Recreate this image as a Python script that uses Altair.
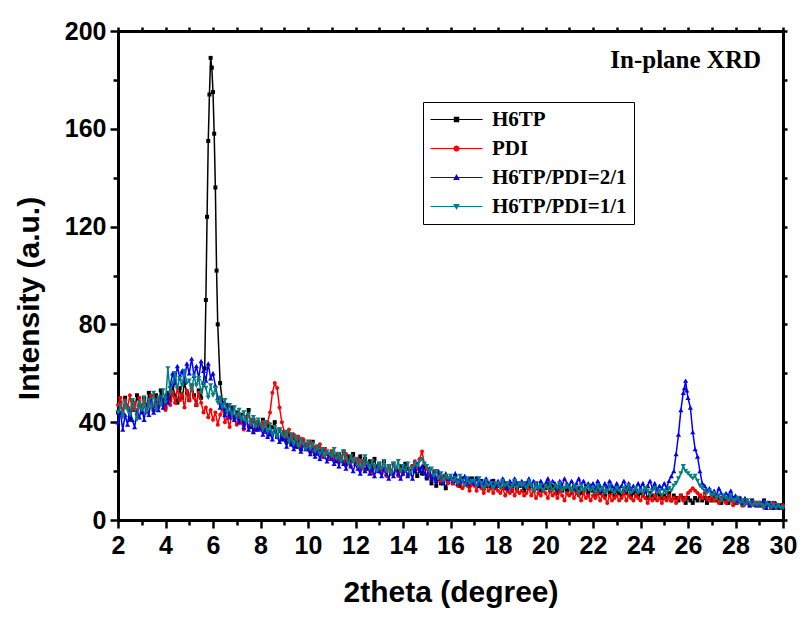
import altair as alt
import pandas as pd

# ---------------- data ----------------
series_names = ["H6TP", "PDI", "H6TP/PDI=2/1", "H6TP/PDI=1/1"]
series_colors = ["#000000", "#ff0000", "#0000ff", "#008080"]
series_shapes = ["square", "circle", "triangle-up", "triangle-down"]
series_sizes = [16, 16, 26, 26]

# scan grid 2.0 .. 30.0 deg, step 0.1 (one row = one degree)
two_theta = [round(2.0 + 0.1 * i, 1) for i in range(281)]

h6tp = [
    44, 48, 43, 50, 46, 41, 49, 45, 51, 47,
    44, 50, 46, 52, 48, 45, 51, 47, 53, 49,
    46, 52, 49, 55, 51, 48, 54, 50, 56, 52,
    49, 55, 51, 47, 53, 50, 56, 90, 155, 189,
    175, 136, 80, 56, 48, 44, 47, 43, 46, 42,
    44, 40, 43, 39, 42, 45, 38, 41, 37, 40,
    38, 41, 36, 39, 35, 38, 40, 34, 37, 33,
    36, 32, 35, 31, 34, 30, 33, 29, 32, 30,
    31, 28, 32, 27, 30, 28, 26, 29, 27, 25,
    28, 26, 24, 27, 25, 28, 23, 26, 24, 27,
    24, 22, 26, 23, 25, 21, 24, 22, 25, 20,
    23, 21, 24, 20, 22, 19, 23, 21, 20, 22,
    20, 23, 21, 19, 22, 20, 18, 21, 19, 22,
    17, 19, 15, 18, 14, 17, 15, 16, 13, 16,
    17, 15, 18, 16, 14, 17, 15, 16, 14, 17,
    15, 17, 14, 16, 13, 16, 15, 14, 16, 13,
    15, 14, 16, 13, 15, 14, 12, 15, 13, 14,
    14, 12, 15, 13, 14, 12, 15, 13, 12, 14,
    13, 15, 12, 14, 13, 11, 14, 12, 13, 12,
    13, 11, 14, 12, 13, 11, 12, 14, 11, 13,
    12, 10, 13, 11, 12, 10, 13, 11, 12, 10,
    12, 11, 10, 12, 11, 13, 10, 11, 12, 10,
    11, 10, 12, 9, 11, 10, 9, 11, 10, 9,
    10, 9, 11, 8, 10, 9, 8, 10, 9, 7,
    9, 8, 7, 9, 8, 10, 8, 9, 7, 9,
    8, 10, 8, 9, 7, 9, 8, 7, 9, 8,
    7, 9, 8, 6, 8, 7, 6, 8, 7, 6,
    7, 6, 8, 6, 7, 5, 7, 6, 5, 6,
    6,
]
h6tp_peak_x = [5.65, 5.75, 5.85, 5.95, 6.05, 6.15]
h6tp_peak_y = [62, 124, 174, 185, 158, 102]

pdi = [
    47, 50, 44, 49, 46, 51, 45, 48, 43, 50,
    46, 49, 44, 48, 51, 45, 49, 46, 50, 47,
    45, 50, 47, 52, 48, 54, 49, 51, 46, 53,
    49, 55, 50, 47, 52, 48, 44, 46, 42, 45,
    41, 44, 39, 43, 46, 40, 42, 38, 44, 41,
    39, 43, 40, 37, 42, 38, 41, 36, 40, 38,
    37, 40, 36, 40, 44, 52, 56, 54, 46, 40,
    36, 34, 37, 32, 35, 31, 34, 30, 33, 31,
    29, 32, 28, 30, 27, 31, 26, 29, 27, 25,
    28, 25, 27, 24, 26, 23, 27, 24, 22, 25,
    23, 25, 21, 24, 20, 23, 21, 19, 22, 20,
    22, 19, 21, 18, 22, 20, 19, 21, 18, 20,
    19, 21, 18, 20, 22, 24, 21, 25, 28, 23,
    21, 19, 18, 20, 17, 19, 16, 18, 17, 15,
    17, 15, 16, 14, 16, 13, 15, 14, 12, 15,
    14, 12, 15, 13, 11, 14, 12, 13, 11, 14,
    12, 11, 13, 10, 12, 11, 13, 10, 12, 11,
    12, 10, 11, 13, 10, 12, 9, 11, 10, 12,
    11, 9, 12, 10, 11, 9, 12, 10, 8, 11,
    10, 12, 9, 11, 10, 8, 11, 9, 10, 8,
    10, 9, 11, 8, 10, 9, 7, 10, 8, 9,
    10, 8, 9, 11, 8, 10, 9, 8, 10, 9,
    8, 10, 9, 7, 9, 8, 10, 8, 9, 7,
    9, 8, 10, 8, 9, 7, 9, 10, 8, 9,
    11, 12, 13, 12, 11, 10, 9, 11, 9, 8,
    10, 8, 9, 7, 9, 8, 7, 9, 8, 6,
    8, 7, 9, 6, 8, 7, 6, 8, 6, 7,
    6, 7, 5, 7, 6, 5, 7, 5, 6, 5,
    6,
]
pdi_peak_x = []
pdi_peak_y = []

mix21 = [
    40, 44, 37, 43, 39, 45, 41, 38, 44, 42,
    46, 41, 47, 43, 49, 44, 48, 45, 50, 46,
    51, 48, 55, 60, 56, 63, 58, 61, 57, 64,
    60, 66, 59, 63, 58, 65, 61, 57, 64, 58,
    60, 55, 50, 46, 48, 43, 46, 42, 45, 41,
    43, 40, 42, 38, 41, 37, 40, 36, 39, 37,
    38, 35, 37, 34, 36, 33, 37, 34, 32, 35,
    33, 30, 34, 31, 29, 32, 30, 28, 31, 29,
    29, 27, 30, 26, 28, 25, 29, 26, 24, 27,
    25, 23, 26, 22, 25, 23, 21, 24, 22, 20,
    23, 21, 19, 22, 20, 23, 19, 21, 18, 22,
    20, 18, 21, 19, 17, 20, 18, 21, 19, 17,
    19, 21, 18, 20, 17, 21, 23, 20, 22, 19,
    18, 21, 17, 19, 16, 20, 18, 15, 19, 17,
    18, 16, 19, 15, 17, 16, 18, 15, 17, 16,
    15, 17, 14, 16, 15, 17, 14, 16, 15, 14,
    16, 14, 17, 15, 13, 16, 14, 17, 15, 14,
    16, 14, 15, 17, 14, 16, 15, 13, 16, 14,
    15, 17, 14, 16, 15, 13, 16, 14, 17, 15,
    14, 16, 13, 15, 17, 14, 16, 13, 15, 14,
    15, 13, 16, 14, 12, 15, 13, 16, 14, 13,
    15, 13, 14, 16, 13, 15, 12, 14, 13, 15,
    13, 15, 12, 14, 16, 13, 15, 12, 14, 13,
    15, 13, 16, 18, 20, 27, 35, 45, 52, 57,
    50, 46, 36, 29, 26, 20, 15, 14, 12, 13,
    11, 12, 10, 13, 11, 9, 11, 10, 12, 9,
    10, 8, 9, 7, 9, 8, 6, 8, 7, 6,
    7, 6, 8, 5, 7, 6, 5, 7, 6, 5,
    5,
]
mix21_peak_x = [25.85, 25.95]
mix21_peak_y = [54, 53]

mix11 = [
    44, 47, 42, 48, 45, 43, 49, 46, 41, 48,
    45, 50, 44, 49, 46, 52, 45, 50, 47, 53,
    48, 62, 52, 56, 60, 54, 58, 55, 61, 56,
    57, 53, 59, 55, 58, 52, 56, 54, 50, 55,
    51, 54, 48, 50, 46, 49, 44, 47, 43, 46,
    42, 45, 41, 44, 40, 43, 39, 42, 38, 41,
    39, 37, 40, 36, 39, 35, 38, 34, 37, 35,
    34, 36, 32, 35, 31, 34, 30, 33, 31, 29,
    32, 29, 31, 28, 30, 27, 29, 26, 28, 27,
    26, 29, 25, 27, 24, 28, 25, 23, 26, 24,
    25, 22, 24, 21, 26, 23, 21, 24, 22, 20,
    23, 21, 24, 20, 22, 19, 23, 21, 24, 20,
    22, 20, 23, 19, 21, 23, 22, 24, 25, 23,
    22, 20, 21, 18, 20, 17, 19, 16, 18, 17,
    18, 16, 17, 15, 18, 16, 14, 17, 15, 16,
    16, 14, 17, 15, 13, 16, 14, 15, 13, 15,
    15, 13, 16, 14, 15, 13, 14, 16, 13, 15,
    14, 15, 13, 16, 14, 12, 15, 13, 14, 12,
    14, 13, 15, 12, 14, 13, 15, 12, 13, 14,
    13, 12, 14, 13, 11, 14, 12, 13, 14, 12,
    13, 11, 14, 12, 13, 11, 12, 14, 12, 11,
    13, 12, 11, 13, 12, 14, 11, 12, 13, 11,
    12, 11, 13, 12, 10, 12, 13, 11, 12, 10,
    12, 11, 13, 12, 14, 15, 17, 19, 22, 20,
    19, 18, 17, 18, 16, 14, 13, 12, 11, 12,
    10, 11, 9, 10, 8, 10, 9, 8, 10, 8,
    8, 9, 7, 8, 6, 8, 7, 6, 7, 6,
    7, 6, 5, 7, 6, 5, 6, 5, 6, 5,
    5,
]
mix11_peak_x = []
mix11_peak_y = []

x_major = [2, 4, 6, 8, 10, 12, 14, 16, 18, 20, 22, 24, 26, 28, 30]
x_minor = [3, 5, 7, 9, 11, 13, 15, 17, 19, 21, 23, 25, 27, 29]
y_major = [0, 40, 80, 120, 160, 200]
y_minor = [20, 60, 100, 140, 180]

annot_x = [25.9]
annot_y = [185]
annot_text = ["In-plane XRD"]

# ---------------- table ----------------
rows = []
for name, ys, px, py in [
    (series_names[0], h6tp, h6tp_peak_x, h6tp_peak_y),
    (series_names[1], pdi, pdi_peak_x, pdi_peak_y),
    (series_names[2], mix21, mix21_peak_x, mix21_peak_y),
    (series_names[3], mix11, mix11_peak_x, mix11_peak_y),
]:
    pts = sorted(list(zip(two_theta, ys)) + list(zip(px, py)))
    for xv, yv in pts:
        rows.append({"series": name, "x": xv, "y": yv})
df = pd.DataFrame(rows)

frame_df = pd.DataFrame({"x": [2, 30], "y": [0, 200]})
annot_df = pd.DataFrame({"x": annot_x, "y": annot_y, "t": annot_text})

SANS = "Liberation Sans, Arial, sans-serif"
SERIF = "Liberation Serif, Times New Roman, serif"

xs = alt.Scale(domain=[2, 30], nice=False, zero=False)
ys_ = alt.Scale(domain=[0, 200], nice=False, zero=False)
color_scale = alt.Scale(domain=series_names, range=series_colors)

# legend glyphs: a thin line segment with the series marker in its middle
LINE = "M-9.5,-0.22H9.5V0.22H-9.5Z"
legend_paths = [
    LINE + "M-1,-1H1V1H-1Z",
    LINE + "M1.1,0A1.1,1.1,0,1,1,-1.1,0A1.1,1.1,0,1,1,1.1,0Z",
    LINE + "M0,-1.25L1.2,0.9L-1.2,0.9Z",
    LINE + "M0,1.25L-1.2,-0.9L1.2,-0.9Z",
]
legend_shape_scale = alt.Scale(domain=series_names, range=legend_paths)

legend = alt.Legend(
    title=None,
    orient="none",
    legendX=305,
    legendY=71,
    padding=7,
    strokeColor="black",
    labelFont=SERIF,
    labelFontSize=21,
    labelFontWeight="bold",
    labelColor="black",
    symbolSize=30,
    symbolOffset=16,
    labelOffset=25,
    rowPadding=7,
    symbolStrokeWidth=0,
    symbolOpacity=1,
)
color_enc = alt.Color("series:N", scale=color_scale, legend=legend)

bottom_axis = alt.Axis(
    orient="bottom", values=x_major, format="d", title="2theta (degree)",
    tickSize=8, labelFontSize=25, labelPadding=5, labelFlush=False,
    labelOverlap=False, titleFontSize=30, titleY=81, titleBaseline="alphabetic")
left_axis = alt.Axis(
    orient="left", values=y_major, format="d", title="Intensity (a.u.)",
    tickSize=8, labelFontSize=25, labelPadding=4, labelFlush=False,
    labelOverlap=False, titleFontSize=30, titleX=-89, titleY=267,
    titleAngle=-90, titleBaseline="middle", titleAlign="center")
top_axis = alt.Axis(orient="top", values=x_major + x_minor, labels=False,
                    title=None, tickSize=4)
right_axis = alt.Axis(orient="right", values=y_major + y_minor, labels=False,
                      title=None, tickSize=4)

layers = []
for i, (name, shp, sz) in enumerate(zip(series_names, series_shapes, series_sizes)):
    base = alt.Chart(df).transform_filter(alt.datum.series == name)
    if i == 0:
        lx, ly = alt.X("x:Q", scale=xs, axis=bottom_axis), alt.Y("y:Q", scale=ys_, axis=left_axis)
        px, py = alt.X("x:Q", scale=xs, axis=top_axis), alt.Y("y:Q", scale=ys_, axis=right_axis)
    else:
        lx, ly = alt.X("x:Q", scale=xs, axis=None), alt.Y("y:Q", scale=ys_, axis=None)
        px, py = lx, ly
    line = base.mark_line(strokeWidth=1.5).encode(x=lx, y=ly, color=color_enc)
    pts = base.mark_point(shape=shp, filled=True, size=sz, opacity=1).encode(
        x=px, y=py, color=color_enc)
    layers += [line, pts]

minor = alt.Chart(frame_df).mark_point(opacity=0).encode(
    x=alt.X("x:Q", scale=xs, axis=alt.Axis(
        orient="bottom", values=x_minor, labels=False, title=None, tickSize=5, domain=False)),
    y=alt.Y("y:Q", scale=ys_, axis=alt.Axis(
        orient="left", values=y_minor, labels=False, title=None, tickSize=5, domain=False)),
)

legend_layer = alt.Chart(df).transform_filter("false").mark_point(
    filled=True, opacity=1
).encode(
    x=alt.X("x:Q", scale=xs, axis=None),
    y=alt.Y("y:Q", scale=ys_, axis=None),
    color=color_enc,
    shape=alt.Shape("series:N", scale=legend_shape_scale, legend=legend),
)

annot = alt.Chart(annot_df).mark_text(
    font=SERIF, fontSize=25, fontWeight="bold", color="black",
    align="center", baseline="alphabetic"
).encode(
    x=alt.X("x:Q", scale=xs, axis=None),
    y=alt.Y("y:Q", scale=ys_, axis=None),
    text="t:N",
)

chart = alt.layer(*layers, minor, legend_layer, annot).resolve_axis(
    x="independent", y="independent"
).properties(
    width=665,
    height=489,
    autosize=alt.AutoSizeParams(type="none"),
    padding={"left": 118, "top": 31, "right": 22, "bottom": 98},
    background="white",
).configure_view(stroke=None).configure_axis(
    grid=False,
    domainColor="black",
    domainWidth=3,
    tickColor="black",
    tickWidth=2.5,
    labelColor="black",
    titleColor="black",
    labelFont=SANS,
    titleFont=SANS,
    labelFontWeight="bold",
    titleFontWeight="bold",
)

chart.save("out.html", embed_options={"renderer": "svg", "actions": False})
